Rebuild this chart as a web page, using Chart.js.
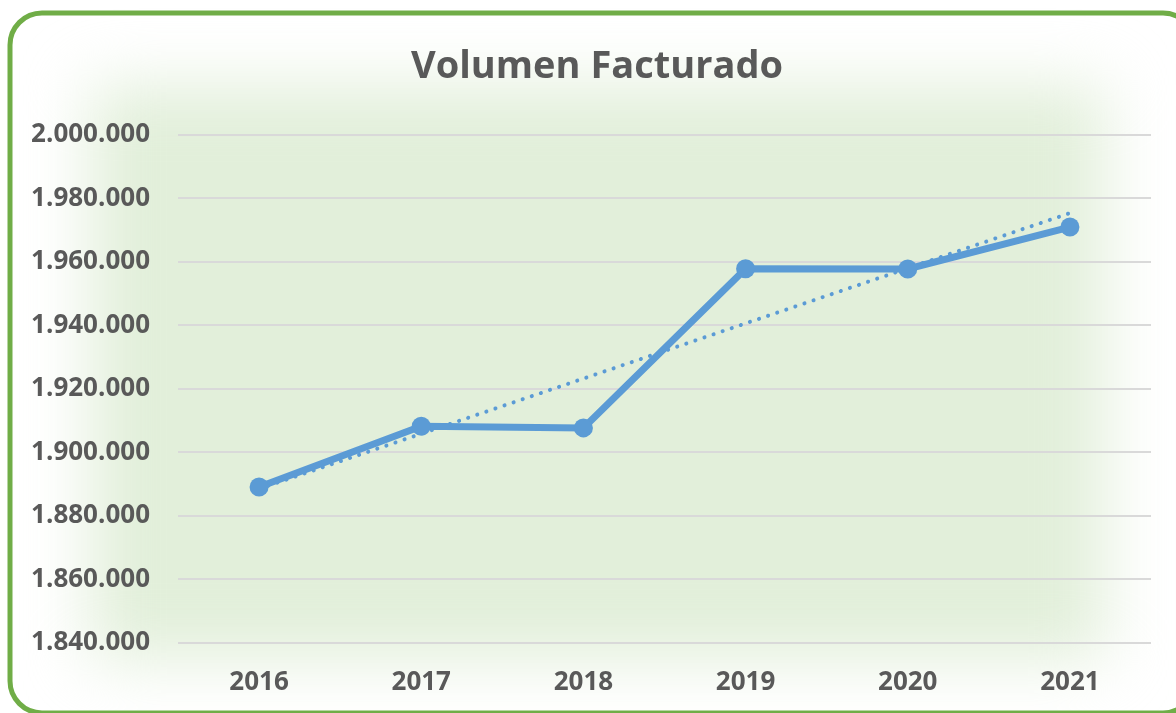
<!DOCTYPE html>
<html>
<head>
<meta charset="utf-8">
<title>Volumen Facturado</title>
<script src="https://cdn.jsdelivr.net/npm/chart.js@4"></script>
<style>
    html, body {
        margin: 0;
        padding: 0;
        background: #ffffff;
    }
    #wrap {
        position: relative;
        width: 1176px;
        height: 713px;
    }
</style>
</head>
<body>
<div id="wrap"><canvas id="chart"></canvas></div>
<script>
const years = ["2016", "2017", "2018", "2019", "2020", "2021"];
const volumen = [1889100, 1908200, 1907700, 1957800, 1957700, 1970900];
const yTicks = [1840000, 1860000, 1880000, 1900000, 1920000, 1940000, 1960000, 1980000, 2000000];

// linear trend line (least squares over the categories), like Excel's
function trendLine(values) {
    const n = values.length;
    const mx = (n - 1) / 2;
    const my = values.reduce((a, b) => a + b, 0) / n;
    let num = 0;
    let den = 0;
    values.forEach((v, i) => {
        num += (i - mx) * (v - my);
        den += (i - mx) * (i - mx);
    });
    const slope = num / den;
    return values.map((v, i) => my + slope * (i - mx));
}

function formatMiles(value) {
    return Math.round(value)
        .toString()
        .replace(/\B(?=(\d{3})+(?!\d))/g, ".");
}

const frame = {
    id: "frame",
    afterLayout(chart) {
        // title sits a little right of the canvas centre in the original
        if (chart.titleBlock) {
            chart.titleBlock.left += 23;
        }
    },
    beforeDraw(chart) {
        const ctx = chart.ctx;
        ctx.save();
        ctx.fillStyle = "#ffffff";
        ctx.fillRect(0, 0, chart.width, chart.height);
        ctx.filter = "blur(32px)";
        ctx.fillStyle = "#e2efda";
        ctx.fillRect(90, 85, 1015, 575);
        ctx.filter = "none";
        ctx.restore();
    },
    afterDraw(chart) {
        const ctx = chart.ctx;
        ctx.save();
        ctx.strokeStyle = "#70ad47";
        ctx.lineWidth = 5;
        ctx.beginPath();
        ctx.roundRect(10, 13, 1185, 700, 32);
        ctx.stroke();
        ctx.restore();
    },
};

const textColor = "#595959";
const font = "'Open Sans', 'DejaVu Sans', sans-serif";

new Chart(document.getElementById("chart"), {
    type: "line",
    data: {
        labels: years,
        datasets: [
            {
                label: "Volumen",
                data: volumen,
                borderColor: "#5b9bd5",
                backgroundColor: "#5b9bd5",
                borderWidth: 7,
                pointRadius: 9.5,
                pointHoverRadius: 9.5,
                pointBorderWidth: 0,
                tension: 0,
                order: 1,
            },
            {
                label: "Lineal (Volumen)",
                data: trendLine(volumen),
                borderColor: "#5b9bd5",
                borderWidth: 4,
                borderDash: [0.1, 9.5],
                borderCapStyle: "round",
                pointRadius: 0,
                tension: 0,
                order: 2,
            },
        ],
    },
    options: {
        responsive: true,
        maintainAspectRatio: false,
        animation: false,
        layout: {
            padding: { left: 20, right: 25, top: 0, bottom: 15 },
        },
        plugins: {
            legend: { display: false },
            tooltip: { enabled: false },
            title: {
                display: true,
                text: "Volumen Facturado",
                color: textColor,
                font: { family: font, size: 38, weight: "bold" },
                padding: { top: 44, bottom: 45 },
            },
        },
        scales: {
            x: {
                offset: true,
                afterFit(scale) {
                    scale.height = 55;
                },
                grid: { display: false, drawTicks: false },
                border: { display: false },
                ticks: {
                    color: textColor,
                    font: { family: font, size: 26, weight: "bold" },
                    padding: 24,
                },
            },
            y: {
                min: 1840000,
                max: 2000000,
                afterFit(scale) {
                    scale.width = 158;
                },
                afterBuildTicks(scale) {
                    scale.ticks = yTicks.map((v) => ({ value: v }));
                },
                grid: {
                    color: "#d9d9d9",
                    lineWidth: 2,
                    drawTicks: false,
                },
                border: { display: false },
                ticks: {
                    color: textColor,
                    font: { family: font, size: 26, weight: "bold" },
                    padding: 28,
                    callback: (v) => formatMiles(v),
                },
            },
        },
    },
    plugins: [frame],
});
</script>
</body>
</html>
